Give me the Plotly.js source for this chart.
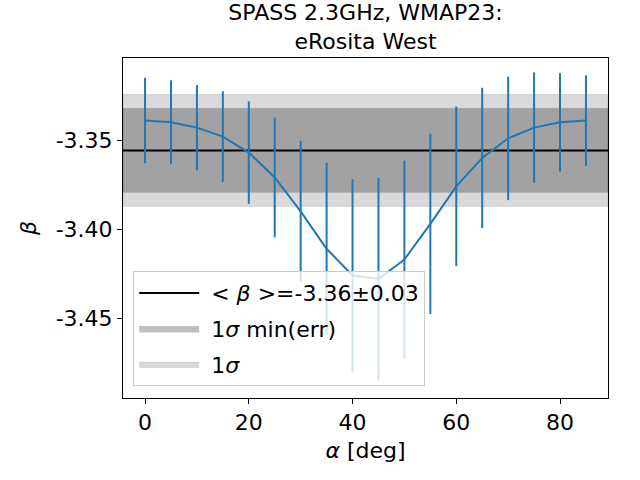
<!DOCTYPE html>
<html>
<head>
<meta charset="utf-8">
<script src="https://cdn.plot.ly/plotly-3.0.1.min.js"></script>
<style>
  html, body { margin: 0; padding: 0; background: #fff; }
  #chart { width: 640px; height: 480px; }
</style>
</head>
<body>
<div id="chart"></div>
<script>
// rotation angle (deg) and fitted spectral index
const alpha = [0, 5, 10, 15, 20, 25, 30, 35, 40, 45, 50, 55, 60, 65, 70, 75, 80, 85];
const beta = [-3.339, -3.340, -3.343, -3.348, -3.357, -3.371, -3.390, -3.411, -3.426,
  -3.428, -3.417, -3.397, -3.376, -3.360, -3.349, -3.343, -3.340, -3.339];
const betaErr = [0.0240, 0.0236, 0.0239, 0.0254, 0.0288, 0.0336, 0.0396, 0.0483, 0.0540,
  0.0570, 0.0555, 0.0506, 0.0448, 0.0394, 0.0347, 0.0310, 0.0276, 0.0254];

const betaMean = -3.3558;
const betaSigma = 0.0315;
const minErr = 0.0235;

const xRange = [-4.25, 89.25];
const xTicks = [0, 20, 40, 60, 80];
const yTicks = [-3.45, -3.40, -3.35];
const yTickLabels = ["-3.45", "-3.40", "-3.35"];

function band(half) {
  return {
    x: [xRange[0], xRange[1], xRange[1], xRange[0], xRange[0]],
    y: [betaMean - half, betaMean - half, betaMean + half, betaMean + half, betaMean - half]
  };
}

const sigmaBand = band(betaSigma);
const minBand = band(minErr);

const traceSigma = {
  x: sigmaBand.x, y: sigmaBand.y,
  type: "scatter", mode: "lines",
  fill: "toself",
  fillcolor: "rgba(0,0,0,0.15)",
  line: { color: "rgba(0,0,0,0.08)", width: 1 },
  name: " 1<i>σ</i>",
  legendgroup: "c",
  legendrank: 3,
  hoverinfo: "skip"
};

const traceMin = {
  x: minBand.x, y: minBand.y,
  type: "scatter", mode: "lines",
  fill: "toself",
  fillcolor: "rgba(0,0,0,0.25)",
  line: { color: "rgba(0,0,0,0.12)", width: 1 },
  name: " 1<i>σ</i> min(err)",
  legendgroup: "b",
  legendrank: 2,
  hoverinfo: "skip"
};

const traceMean = {
  x: xRange,
  y: [betaMean, betaMean],
  type: "scatter", mode: "lines",
  line: { color: "#000000", width: 2 },
  name: " &lt; <i>β</i> &gt;=-3.36±0.03",
  legendgroup: "a",
  legendrank: 1
};

const traceData = {
  x: alpha,
  y: beta,
  type: "scatter", mode: "lines",
  line: { color: "#1f77b4", width: 2 },
  error_y: {
    type: "data",
    array: betaErr,
    visible: true,
    color: "#1f77b4",
    thickness: 2,
    width: 0
  },
  showlegend: false
};

const font = { family: "DejaVu Sans, sans-serif", color: "#000000", size: 22 };

Plotly.newPlot("chart", [traceSigma, traceMin, traceMean, traceData], {
  width: 640,
  height: 480,
  paper_bgcolor: "#ffffff",
  plot_bgcolor: "#ffffff",
  font: font,
  margin: { l: 123, r: 32, t: 58, b: 82 },
  title: {
    text: "SPASS 2.3GHz, WMAP23:<br>eRosita West",
    font: { family: font.family, size: 22, color: "#000000" },
    x: 0.5,
    xref: "paper",
    xanchor: "center",
    y: 0.958,
    yref: "container",
    yanchor: "top"
  },
  xaxis: {
    range: xRange,
    tickvals: xTicks,
    ticks: "outside",
    ticklen: 5,
    tickcolor: "#000000",
    showgrid: false,
    zeroline: false,
    showline: true,
    mirror: true,
    linecolor: "#000000",
    linewidth: 1,
    title: { text: "<i>α</i> [deg]", standoff: 8, font: { size: 22 } }
  },
  yaxis: {
    range: [-3.4948, -3.3039],
    tickvals: yTicks,
    ticktext: yTickLabels,
    ticks: "outside",
    ticklen: 5,
    tickcolor: "#000000",
    showgrid: false,
    zeroline: false,
    showline: true,
    mirror: true,
    linecolor: "#000000",
    linewidth: 1,
    title: { text: "<i>β</i>", standoff: 12, font: { size: 22 } }
  },
  legend: {
    x: 0.021,
    y: 0.035,
    xanchor: "left",
    yanchor: "bottom",
    bgcolor: "rgba(255,255,255,0.8)",
    bordercolor: "#cccccc",
    borderwidth: 1,
    itemwidth: 60,
    tracegroupgap: 4,
    font: { size: 22 }
  },
  showlegend: true
}, {
  displayModeBar: false
});
</script>
</body>
</html>
